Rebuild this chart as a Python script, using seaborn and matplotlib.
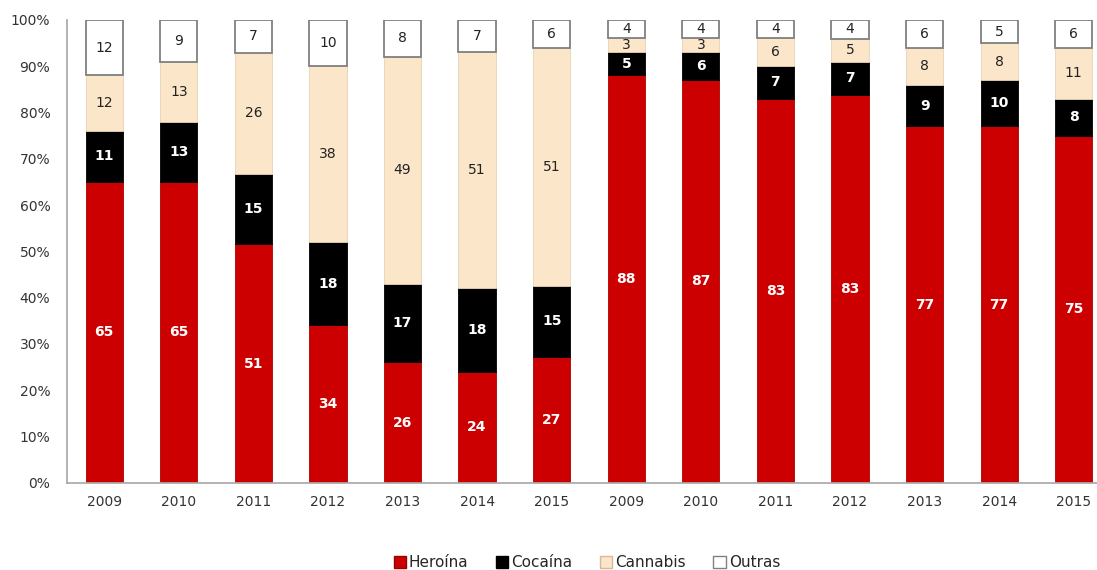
import matplotlib
matplotlib.use("Agg")
import matplotlib.pyplot as plt
import seaborn as sns
import pandas as pd
import numpy as np
from matplotlib.patches import Patch

years = ["2009", "2010", "2011", "2012", "2013", "2014", "2015",
         "2009", "2010", "2011", "2012", "2013", "2014", "2015"]
heroina = [65, 65, 51, 34, 26, 24, 27, 88, 87, 83, 83, 77, 77, 75]
cocaina = [11, 13, 15, 18, 17, 18, 15, 5, 6, 7, 7, 9, 10, 8]
cannabis = [12, 13, 26, 38, 49, 51, 51, 3, 3, 6, 5, 8, 8, 11]
outras = [12, 9, 7, 10, 8, 7, 6, 4, 4, 4, 4, 6, 5, 6]

series_names = ["Heroína", "Cocaína", "Cannabis", "Outras"]
series_vals = [heroina, cocaina, cannabis, outras]
colors = ["#CC0000", "#000000", "#FCE6C9", "#FFFFFF"]
edges = ["#B00000", "#000000", "#E8D2B5", "#808080"]
text_colors = ["white", "white", "#222222", "#222222"]
text_weights = ["bold", "bold", "normal", "normal"]

sns.set_theme(style="white")
plt.rcParams["font.family"] = ["DejaVu Sans"]

keys = [f"{i}" for i in range(len(years))]
arr = np.array(series_vals, dtype=float)
totals = arr.sum(axis=0)
pct = arr / totals * 100

fig = plt.figure(figsize=(10.97, 5.70), dpi=100)
ax = fig.add_axes([0.061, 0.153, 0.945, 0.812])

bottom = np.zeros(len(years))
for k, name in enumerate(series_names):
    df = pd.DataFrame({"x": keys, "y": pct[k]})
    sns.barplot(data=df, x="x", y="y", order=keys, color=colors[k], ax=ax,
                width=0.5, bottom=bottom.copy(), edgecolor=edges[k],
                linewidth=1.3 if k == 3 else 0.6, saturation=1, errorbar=None)
    for i in range(len(years)):
        ax.text(i, bottom[i] + pct[k][i] / 2, f"{series_vals[k][i]}",
                ha="center", va="center", color=text_colors[k],
                fontsize=10, fontweight=text_weights[k])
    bottom += pct[k]

ax.set_xlim(-0.5, 13.4)
ax.set_ylim(0, 100)
ax.set_yticks(np.arange(0, 101, 10))
ax.set_yticklabels([f"{v}%" for v in range(0, 101, 10)], fontsize=10, color="#333333")
ax.set_xticks(range(len(years)))
ax.set_xticklabels(years, fontsize=10, color="#333333")
ax.set_xlabel("")
ax.set_ylabel("")
ax.tick_params(axis="x", length=0, pad=9)
ax.tick_params(axis="y", length=0, pad=12)
for s in ["top", "right"]:
    ax.spines[s].set_visible(False)
ax.spines["left"].set_color("#aaaaaa")
ax.spines["bottom"].set_color("#aaaaaa")
ax.grid(False)

leg_edges = ["#990000", "#000000", "#D8B898", "#808080"]
handles = [Patch(facecolor=colors[k], edgecolor=leg_edges[k], label=series_names[k])
           for k in range(4)]
fig.legend(handles=handles, loc="center", bbox_to_anchor=(0.535, 0.013), ncol=4,
           frameon=False, fontsize=11, handlelength=0.8, handleheight=0.8,
           handletextpad=0.2, columnspacing=1.8)

fig.savefig("out.png", dpi=100)
